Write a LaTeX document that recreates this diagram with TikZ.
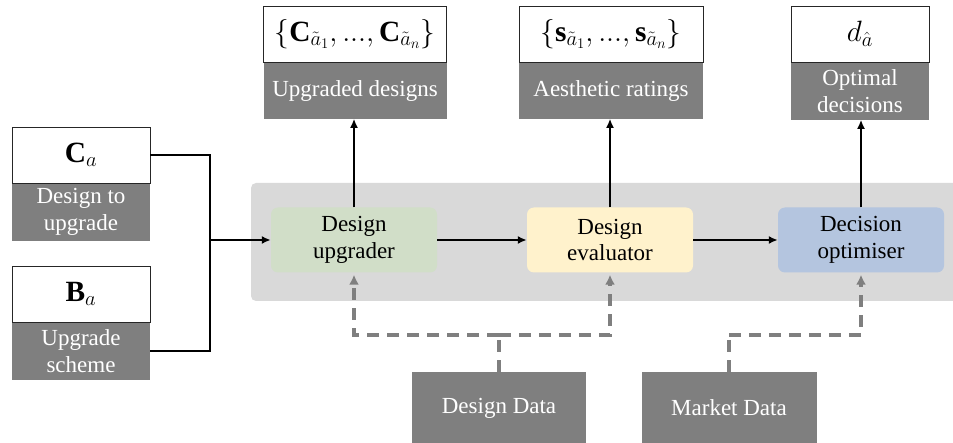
\RequirePackage{fix-cm}
\documentclass[tikz,border=0pt]{standalone}
\usepackage{amsmath,amssymb}
\usepackage{graphicx}
\usepackage{fontspec}
\setmainfont{Liberation Serif}
\usepackage{tikz}
\usetikzlibrary{arrows.meta}

\definecolor{upgreen}{HTML}{D1DEC8}
\definecolor{evyellow}{HTML}{FFF2CC}
\definecolor{opblue}{HTML}{B4C5DF}
\definecolor{bggray}{HTML}{D9D9D9}
\definecolor{taggray}{HTML}{7F7F7F}

\newcommand{\valmath}[1]{\scalebox{1.13}{$#1$}}

\tikzset{
  every node/.style={font=\rmfamily\fontsize{23}{27}\selectfont},
  valbox/.style={draw=black!85, line width=0.8pt, fill=white, minimum height=56pt, inner sep=0pt,
    font=\fontsize{26}{30}\selectfont},
  tagbox/.style={fill=taggray, text=white, minimum height=57pt, inner sep=0pt, align=center},
  procbox/.style={rounded corners=7pt, minimum width=166pt, minimum height=65pt, inner sep=0pt, align=center},
  databox/.style={fill=taggray, text=white, minimum height=72pt, inner sep=0pt},
  flow/.style={line width=2pt, -{Latex[length=9pt,width=8pt]}},
  feed/.style={draw=taggray, line width=3.2pt, dash pattern=on 12pt off 8pt, -{Latex[length=10pt,width=10pt]}},
}

\begin{document}
\begin{tikzpicture}[x=1pt, y=-1pt]
  \useasboundingbox (0,0) rectangle (953,443);

  % Background panel
  \fill[bggray, rounded corners=5pt] (251,183) rectangle (965,301);

  % Inputs
  \node[valbox, minimum width=138pt] (ca) at (81,155) {\valmath{\mathbf{C}_a}};
  \node[tagbox, minimum width=138pt, anchor=north] (catag) at (ca.south) {Design to\\upgrade};
  \node[valbox, minimum width=138pt] (ba) at (81,294) {\valmath{\mathbf{B}_a}};
  \node[tagbox, minimum width=138pt, anchor=north] (batag) at (ba.south) {Upgrade\\scheme};

  % Modules
  \node[procbox, fill=upgreen] (upg) at (354,240) {Design\\upgrader};
  \node[procbox, fill=evyellow] (eva) at (610,240) {Design\\evaluator};
  \node[procbox, fill=opblue] (opt) at (861,240) {Decision\\optimiser};

  % Outputs
  \node[valbox, minimum width=183pt] (des) at (355,34)
    {\valmath{\{\mathbf{C}_{\tilde{a}_1},...,\mathbf{C}_{\tilde{a}_n}\}}};
  \node[tagbox, minimum width=183pt, minimum height=56pt, anchor=north] (destag) at (des.south) {Upgraded designs};
  \node[valbox, minimum width=184pt] (rat) at (611,34)
    {\valmath{\left\{\mathbf{s}_{\tilde{a}_1},...,\mathbf{s}_{\tilde{a}_n}\right\}}};
  \node[tagbox, minimum width=184pt, minimum height=56pt, anchor=north] (rattag) at (rat.south) {Aesthetic ratings};
  \node[valbox, minimum width=138pt] (dec) at (860,34) {\valmath{d_{\hat{a}}}};
  \node[tagbox, minimum width=138pt, anchor=north] (dectag) at (dec.south) {Optimal\\decisions};

  % Data sources
  \node[databox, minimum width=174pt] (dd) at (499,408) {Design Data};
  \node[databox, minimum width=175pt] (md) at (729,408) {Market Data};

  % Main flow
  \coordinate (join) at (210,240);
  \draw[line width=2pt] (ca.east) -| (join);
  \draw[line width=2pt] (batag.east) -| (join);
  \draw[flow] (join) -- (upg.west);
  \draw[flow] (upg) -- (eva);
  \draw[flow] (eva) -- (opt);
  \draw[flow] (upg.north) -- (upg.north |- destag.south);
  \draw[flow] (eva.north) -- (eva.north |- rattag.south);
  \draw[flow] (opt.north) -- (opt.north |- dectag.south);

  % Data feeds
  \coordinate (dsplit) at (499,335);
  \coordinate (msplit) at (729,335);
  \draw[feed, -] (dd.north) -- (dsplit);
  \draw[feed] (dsplit) -| ([yshift=-2pt]upg.south);
  \draw[feed] (dsplit) -| ([yshift=-2pt]eva.south);
  \draw[feed, -] (md.north) -- (msplit);
  \draw[feed] (msplit) -| ([yshift=-2pt]opt.south);
\end{tikzpicture}
\end{document}
